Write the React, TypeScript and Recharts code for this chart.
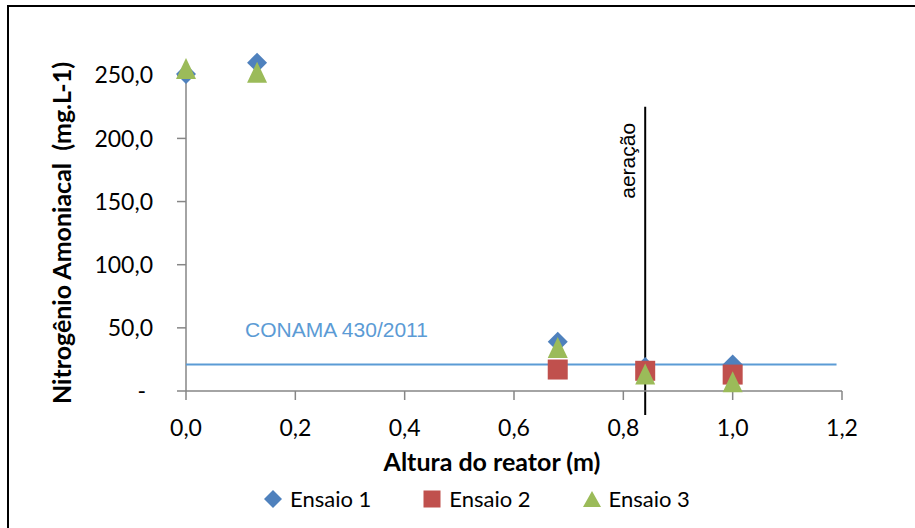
import React from "react";
import { ReferenceLine, Scatter, ScatterChart, XAxis, YAxis } from "recharts";

// altura do ponto de coleta no reator (m)
const alturas = [0, 0.13, 0.68, 0.84, 1.0];
// nitrogênio amoniacal (mg/L) por ensaio
const ensaio1 = [251, 260, 39, 19, 21];
const ensaio2: (number | null)[] = [null, null, 17, 16, 13];
const ensaio3 = [255, 252, 34, 13, 7];

const xTicks = [0, 0.2, 0.4, 0.6, 0.8, 1.0, 1.2];
const yTicks = [0, 50, 100, 150, 200, 250];
const yMax = 250;
// folga acima do eixo para os pontos acima de 250 não serem cortados
const yTeto = 270;

const limiteConama = 21;
const conamaFimX = 1.19;
const posAeracao = 0.84;
const aeracaoTopo = 225;
const aeracaoBase = -19;

const AZUL = "#4F81BD";
const VERMELHO = "#C0504D";
const VERDE = "#9BBB59";
const EIXO = "#868686";
const FONTE = "Lato, 'Noto Sans', sans-serif";

const pontos = (vals: (number | null)[]) =>
  alturas
    .map((x, i) => ({ x, y: vals[i] }))
    .filter((p) => p.y !== null);

const Diamond = (p: any) => {
  const { cx, cy } = p;
  const r = 10;
  return <path d={`M${cx},${cy - r}L${cx + r},${cy}L${cx},${cy + r}L${cx - r},${cy}Z`} fill={AZUL} />;
};

const Square = (p: any) => {
  const { cx, cy } = p;
  return <rect x={cx - 10} y={cy - 10} width={20} height={20} fill={VERMELHO} />;
};

const Triangle = (p: any) => {
  const { cx, cy } = p;
  return <path d={`M${cx},${cy - 11}L${cx + 10},${cy + 10}L${cx - 10},${cy + 10}Z`} fill={VERDE} />;
};

const fmt = (v: number) => v.toFixed(1).replace(".", ",");

const YTick = (p: any) => {
  const { x, y, payload } = p;
  const zero = payload.value === 0;
  return (
    <text x={zero ? x - 7 : x} y={y} dy="0.355em" textAnchor="end" fontSize={23} fontFamily={FONTE} fill="#000">
      {zero ? "-" : fmt(payload.value)}
    </text>
  );
};

const XTick = (p: any) => {
  const { x, y, payload } = p;
  return (
    <text x={x} y={y} dy="0.71em" textAnchor="middle" fontSize={23} fontFamily={FONTE} fill="#000">
      {fmt(payload.value)}
    </text>
  );
};

const legenda = [
  { nome: "Ensaio 1", icone: <path d="M9,0L18,9L9,18L0,9Z" fill={AZUL} /> },
  { nome: "Ensaio 2", icone: <rect x={0.5} y={0.5} width={17} height={17} fill={VERMELHO} /> },
  { nome: "Ensaio 3", icone: <path d="M9,1L18,17L0,17Z" fill={VERDE} /> },
];

export default function App() {
  return (
    <div style={{ position: "fixed", left: 0, top: 0, width: 915, height: 528, overflow: "hidden", background: "#fff" }}>
      <div
        style={{
          position: "absolute",
          left: 7,
          top: 5,
          width: 1100,
          height: 700,
          border: "2px solid #000",
        }}
      />
      <div style={{ position: "absolute", left: 0, top: 0 }}>
        <ScatterChart width={915} height={528} margin={{ top: 50, right: 73, bottom: 0, left: 0 }}>
          <XAxis
            type="number"
            dataKey="x"
            domain={[0, 1.2]}
            ticks={xTicks}
            interval={0}
            height={137}
            stroke={EIXO}
            strokeWidth={1.5}
            tickSize={9}
            tickMargin={20}
            tick={<XTick />}
            label={{
              content: (p: any) => (
                <text
                  x={p.viewBox.x + 306}
                  y={p.viewBox.y + 80}
                  textAnchor="middle"
                  fontSize={25}
                  fontWeight="bold"
                  fontFamily={FONTE}
                  fill="#000"
                >
                  Altura do reator (m)
                </text>
              ),
            }}
          />
          <YAxis
            type="number"
            dataKey="y"
            domain={[0, yTeto]}
            ticks={yTicks}
            interval={0}
            width={186}
            axisLine={false}
            stroke={EIXO}
            strokeWidth={1.5}
            tickSize={9}
            tickMargin={24}
            tick={<YTick />}
            label={{
              content: () => (
                <text
                  x={62}
                  y={233}
                  transform="rotate(-90, 62, 233)"
                  dy="0.355em"
                  textAnchor="middle"
                  fontSize={25}
                  fontWeight="bold"
                  fontFamily={FONTE}
                  fill="#000"
                  style={{ whiteSpace: "pre" }}
                >
                  {"Nitrogênio Amoniacal  (mg.L-1)"}
                </text>
              ),
            }}
          />
          {/* linha do eixo Y só até o último tick */}
          <ReferenceLine
            segment={[
              { x: 0, y: 0 },
              { x: 0, y: yMax },
            ]}
            stroke={EIXO}
            strokeWidth={1.5}
          />
          <ReferenceLine
            segment={[
              { x: 0, y: limiteConama },
              { x: conamaFimX, y: limiteConama },
            ]}
            ifOverflow="visible"
            stroke="#5B9BD5"
            strokeWidth={2}
            label={{
              content: (p: any) => (
                <text x={p.viewBox.x + 59} y={p.viewBox.y - 27} fontSize={21} fontFamily="'Liberation Sans', Arial, sans-serif" fill="#5B9BD5">
                  CONAMA 430/2011
                </text>
              ),
            }}
          />
          <Scatter data={pontos(ensaio1)} shape={Diamond} isAnimationActive={false} />
          <Scatter data={pontos(ensaio2)} shape={Square} isAnimationActive={false} />
          <Scatter data={pontos(ensaio3)} shape={Triangle} isAnimationActive={false} />
          <ReferenceLine
            segment={[
              { x: posAeracao, y: aeracaoTopo },
              { x: posAeracao, y: aeracaoBase },
            ]}
            ifOverflow="visible"
            stroke="#000"
            strokeWidth={2}
            label={{
              content: (p: any) => {
                const tx = p.viewBox.x - 10;
                const ty = p.viewBox.y + 54;
                return (
                  <text
                    x={tx}
                    y={ty}
                    transform={`rotate(-90, ${tx}, ${ty})`}
                    textAnchor="middle"
                    fontSize={21}
                    fontFamily="'Liberation Sans', Arial, sans-serif"
                    fill="#000"
                  >
                    aeração
                  </text>
                );
              },
            }}
          />
        </ScatterChart>
      </div>
      <div
        style={{
          position: "absolute",
          left: 264,
          top: 489,
          display: "flex",
          gap: 52,
          fontFamily: FONTE,
          fontSize: 22,
          lineHeight: "20px",
          color: "#000",
        }}
      >
        {legenda.map((item) => (
          <div key={item.nome} style={{ display: "flex", alignItems: "center", gap: 8 }}>
            <svg width={18} height={18}>
              {item.icone}
            </svg>
            <span>{item.nome}</span>
          </div>
        ))}
      </div>
    </div>
  );
}
